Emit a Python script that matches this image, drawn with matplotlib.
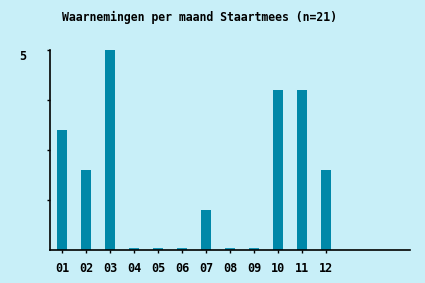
import matplotlib
matplotlib.use("Agg")
import matplotlib.pyplot as plt

months = ["01", "02", "03", "04", "05", "06", "07", "08", "09", "10", "11", "12"]
counts = [3, 2, 5, 0, 0, 0, 1, 0, 0, 4, 4, 2]
title = "Waarnemingen per maand Staartmees (n=21)"

bg = "#c8eff8"
bar_color = "#0088a8"
zero_color = "#1898b8"

fig = plt.figure(figsize=(4.25, 2.83), dpi=100, facecolor=bg)
ax = fig.add_axes([50 / 425, 33 / 283, 360 / 425, 200 / 283])
ax.set_facecolor(bg)

x = list(range(len(months)))
heights = [c if c > 0 else 0.06 for c in counts]
colors = [bar_color if c > 0 else zero_color for c in counts]
ax.bar(x, heights, width=0.38, color=colors, linewidth=0)

ax.set_xlim(-0.5, 14.5)
ax.set_ylim(0, 5)

for s in ["top", "right"]:
    ax.spines[s].set_visible(False)
for s in ["left", "bottom"]:
    ax.spines[s].set_linewidth(1.2)
    ax.spines[s].set_color("black")

ax.set_xticks(x)
ax.set_xticklabels(months, family="DejaVu Sans Mono", fontweight="bold", fontsize=8.5)
ax.tick_params(axis="x", length=2, width=1, pad=7)

ax.set_yticks([1.25, 2.5, 3.75, 5])
ax.set_yticklabels(["", "", "", "5"], family="DejaVu Sans Mono", fontweight="bold", fontsize=8.5)
ax.tick_params(axis="y", length=2.2, width=1, pad=15)
for lbl in ax.get_yticklabels():
    lbl.set_verticalalignment("top")

fig.text(62 / 425, 1 - 17 / 283, title, family="DejaVu Sans Mono", fontweight="bold",
         fontsize=8.3, ha="left", va="center")

fig.savefig("out.png", dpi=100, facecolor=bg)
